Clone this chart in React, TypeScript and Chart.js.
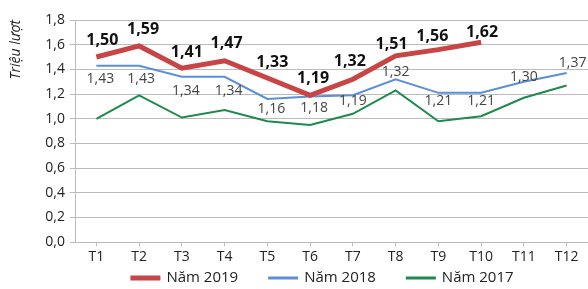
import React, { useEffect, useRef } from "react";
import { Chart, registerables } from "chart.js";

Chart.register(...registerables);

const months = ["T1", "T2", "T3", "T4", "T5", "T6", "T7", "T8", "T9", "T10", "T11", "T12"];
const y2019 = [1.5, 1.59, 1.41, 1.47, 1.33, 1.19, 1.32, 1.51, 1.56, 1.62, null, null];
const y2018 = [1.43, 1.43, 1.34, 1.34, 1.16, 1.18, 1.19, 1.32, 1.21, 1.21, 1.3, 1.37];
const y2017 = [1.0, 1.19, 1.01, 1.07, 0.98, 0.95, 1.04, 1.23, 0.98, 1.02, 1.17, 1.27];
const yTicks = [0, 0.2, 0.4, 0.6, 0.8, 1.0, 1.2, 1.4, 1.6, 1.8];
const seriesNames = ["Năm 2019", "Năm 2018", "Năm 2017"];
const colors = ["#c94444", "#5b8fd8", "#1d8a4e"];
// label offsets (style only): [dx, dy] from the point
const off2019 = [[6, -17], [4, -16], [5, -16], [2, -17], [5, -16], [3, -17], [-3, -18], [-4, -11], [-6, -13], [1, -10]];
const off2018 = [[4, 13], [2, 13], [4, 14], [4, 14], [4, 10], [4, 11], [0, 6], [0, -7], [0, 8], [0, 8], [0, -5], [6, -10]];

const fmt = (v: number) => v.toFixed(2).replace(".", ",");
const FONT = "'Open Sans', 'Noto Sans', sans-serif";

const labelPlugin = {
  id: "labels",
  afterDatasetsDraw(chart: any) {
    const ctx = chart.ctx;
    ctx.save();
    ctx.textAlign = "center";
    ctx.textBaseline = "middle";
    const m0 = chart.getDatasetMeta(0);
    ctx.font = `bold 16px ${FONT}`;
    ctx.fillStyle = "#111";
    m0.data.forEach((pt: any, i: number) => {
      const v = y2019[i];
      if (v == null) return;
      const o = off2019[i];
      ctx.fillText(fmt(v), pt.x + o[0], pt.y + o[1]);
    });
    const m1 = chart.getDatasetMeta(1);
    ctx.font = `14px ${FONT}`;
    ctx.fillStyle = "#444";
    m1.data.forEach((pt: any, i: number) => {
      const o = off2018[i];
      ctx.fillText(fmt(y2018[i]), pt.x + o[0], pt.y + o[1]);
    });
    ctx.restore();
  },
};

const legendPlugin = {
  id: "customLegend",
  afterDraw(chart: any) {
    const ctx = chart.ctx;
    ctx.save();
    ctx.font = `15px ${FONT}`;
    ctx.textBaseline = "middle";
    const lineW = 30, gapText = 6, gapItem = 30;
    const ds = chart.data.datasets;
    const widths = ds.map((d: any) => lineW + gapText + ctx.measureText(d.label).width);
    const total = widths.reduce((a: number, b: number) => a + b, 0) + gapItem * (ds.length - 1);
    const cx = 322;
    let x = cx - total / 2;
    const y = chart.height - 11;
    ds.forEach((d: any, i: number) => {
      ctx.fillStyle = d.borderColor;
      ctx.fillRect(x, y - (i === 0 ? 2.5 : 1.5), lineW, i === 0 ? 5 : 3);
      ctx.fillStyle = "#222";
      ctx.fillText(d.label, x + lineW + gapText, y);
      x += widths[i] + gapItem;
    });
    ctx.restore();
  },
};

export default function App() {
  const ref = useRef<HTMLCanvasElement>(null);
  useEffect(() => {
    document.body.style.margin = "0";
    const c = new Chart(ref.current!, {
      type: "line",
      data: {
        labels: months,
        datasets: [
          { label: seriesNames[0], data: y2019, borderColor: colors[0], backgroundColor: colors[0], borderWidth: 5, pointRadius: 0, tension: 0 },
          { label: seriesNames[1], data: y2018, borderColor: colors[1], backgroundColor: colors[1], borderWidth: 2, pointRadius: 0, tension: 0 },
          { label: seriesNames[2], data: y2017, borderColor: colors[2], backgroundColor: colors[2], borderWidth: 2, pointRadius: 0, tension: 0 },
        ],
      },
      options: {
        animation: false,
        responsive: false,
        layout: { padding: { top: 20, right: 0, left: 0, bottom: 22 } },
        plugins: {
          tooltip: { enabled: false },
          legend: { display: false },
        },
        scales: {
          x: {
            offset: true,
            grid: { display: true, drawOnChartArea: false, tickLength: 4, color: "#bbb" },
            border: { color: "#bbb" },
            ticks: { font: { family: FONT, size: 14 }, color: "#222", padding: 2 },
          },
          y: {
            min: 0,
            max: 1.8,
            afterBuildTicks: (s: any) => { s.ticks = yTicks.map((v) => ({ value: v })); },
            afterFit: (s: any) => { s.width = 75; },
            grid: { color: "#bbb", tickLength: 5 },
            border: { color: "#bbb" },
            ticks: {
              font: { family: FONT, size: 14 },
              color: "#222",
              padding: 5,
              callback: (v: any) => Number(v).toFixed(1).replace(".", ","),
            },
            title: {
              display: true,
              text: "Triệu lượt",
              align: "end",
              font: { family: FONT, size: 14, style: "italic" },
              color: "#222",
              padding: { top: 8, bottom: 0 },
            },
          },
        },
      },
      plugins: [labelPlugin, legendPlugin],
    });
    return () => c.destroy();
  }, []);
  return <canvas ref={ref} width={588} height={289} style={{ display: "block" }} />;
}
